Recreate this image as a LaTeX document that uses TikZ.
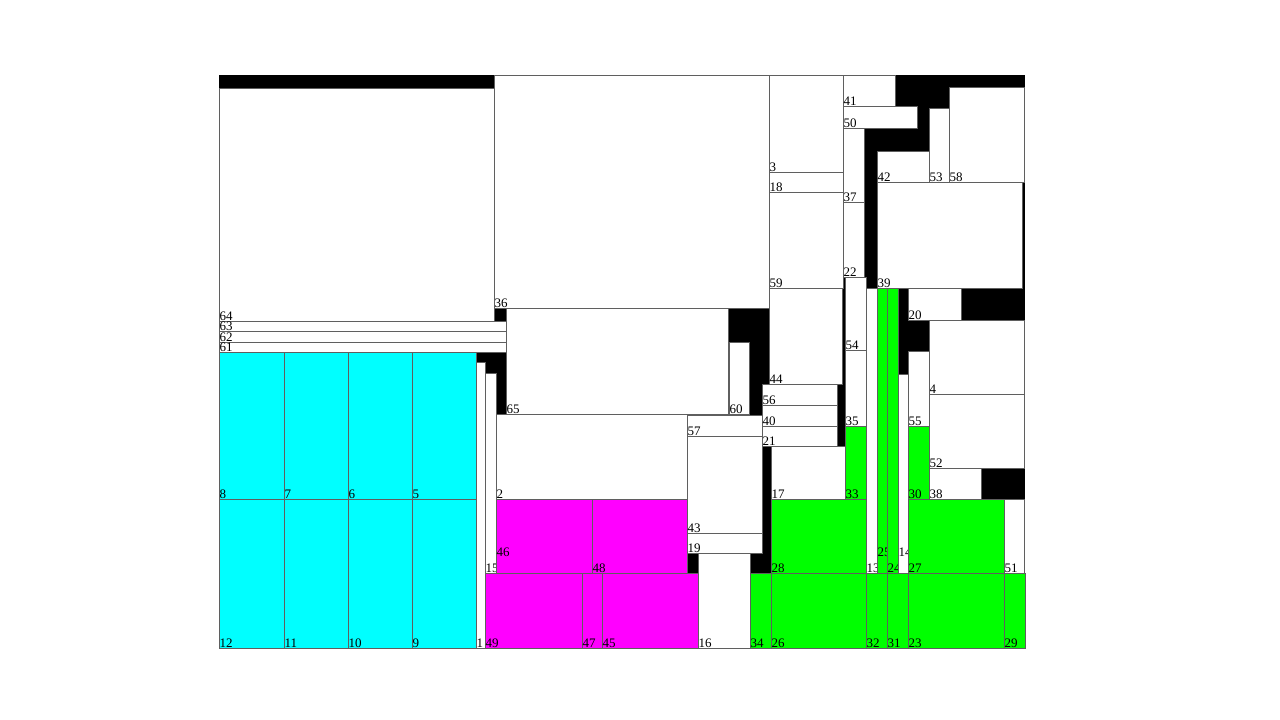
\documentclass[tikz,border=0pt]{standalone}
\usepackage{fontspec}
\setmainfont{Liberation Serif}
\definecolor{cy}{RGB}{0,255,255}
\definecolor{mg}{RGB}{255,0,255}
\definecolor{gr}{RGB}{0,255,0}
\definecolor{edge}{RGB}{95,95,95}
\tikzset{
  blk/.style={draw=edge,line width=0.8pt},
  lbl/.style={anchor=base west,inner sep=0pt,font=\fontsize{13}{13}\selectfont,xshift=0.3pt,yshift=0.5pt}
}
% \rb{label}{x1}{y1}{x2}{y2}{fill}
\newcommand{\rb}[6]{\filldraw[blk,fill=#6] (#2,#3) rectangle (#4,#5); \node[lbl] (r#1) at (#2,#5) {#1};}
% \rbl{label}{x1}{y1}{x2}{y2}{fill}{label y}
\newcommand{\rbl}[7]{\filldraw[blk,fill=#6] (#2,#3) rectangle (#4,#5); \node[lbl] (r#1) at (#2,#7) {#1};}
\begin{document}
\begin{tikzpicture}[x=1pt,y=-1pt]
\useasboundingbox[fill=white] (0,0) rectangle (1280,720);
\fill[black] (219,75) rectangle (1025,648);
% left column
\rb{64}{219}{88}{494}{321}{white}
\rb{63}{219}{321}{506}{331}{white}
\rb{62}{219}{331}{506}{342}{white}
\rb{61}{219}{342}{506}{352}{white}
\rb{8}{219}{352}{284}{499}{cy}
\rb{7}{284}{352}{348}{499}{cy}
\rb{6}{348}{352}{412}{499}{cy}
\rb{5}{412}{352}{476}{499}{cy}
\rb{12}{219}{499}{284}{648}{cy}
\rb{11}{284}{499}{348}{648}{cy}
\rb{10}{348}{499}{412}{648}{cy}
\rb{9}{412}{499}{476}{648}{cy}
\rb{1}{476}{362}{485}{648}{white}
\rb{15}{485}{373}{496}{573}{white}
% middle column
\rb{36}{494}{75}{769}{308}{white}
\rb{65}{506}{308}{728}{414}{white}
\rb{60}{729}{342}{749}{414}{white}
\rb{2}{496}{414}{687}{499}{white}
\rbl{46}{496}{499}{592}{573}{mg}{557}
\rb{48}{592}{499}{687}{573}{mg}
\rb{49}{485}{573}{582}{648}{mg}
\rb{47}{582}{573}{602}{648}{mg}
\rb{45}{602}{573}{698}{648}{mg}
\rb{16}{698}{553}{750}{648}{white}
\rb{57}{687}{415}{762}{436}{white}
\rb{43}{687}{436}{762}{533}{white}
\rb{19}{687}{533}{762}{553}{white}
% column 769-843
\rb{3}{769}{75}{843}{172}{white}
\rb{18}{769}{172}{843}{192}{white}
\rb{59}{769}{192}{843}{288}{white}
\rb{44}{769}{288}{842}{384}{white}
\rb{56}{762}{384}{837}{405}{white}
\rb{40}{762}{405}{837}{426}{white}
\rb{21}{762}{426}{837}{446}{white}
\rb{17}{771}{446}{845}{499}{white}
\rb{33}{845}{426}{866}{499}{gr}
\rb{35}{845}{350}{866}{426}{white}
\rb{54}{845}{277}{866}{350}{white}
\rb{22}{843}{202}{864}{277}{white}
\rb{37}{843}{128}{864}{202}{white}
\rb{50}{843}{106}{917}{128}{white}
\rb{41}{843}{75}{895}{106}{white}
\rb{28}{771}{499}{866}{573}{gr}
\rb{34}{750}{573}{771}{648}{gr}
\rb{26}{771}{573}{866}{648}{gr}
% right column
\rb{42}{877}{151}{929}{182}{white}
\rb{53}{929}{108}{949}{182}{white}
\rb{58}{949}{87}{1024}{182}{white}
\rb{39}{877}{182}{1022}{288}{white}
\rb{13}{866}{288}{877}{573}{white}
\rbl{25}{877}{288}{887}{573}{gr}{557}
\rb{24}{887}{288}{898}{573}{gr}
\rbl{14}{898}{374}{908}{573}{white}{557}
\rb{32}{866}{573}{887}{648}{gr}
\rb{31}{887}{573}{908}{648}{gr}
\rb{20}{908}{288}{961}{320}{white}
\rb{4}{929}{320}{1024}{394}{white}
\rb{52}{929}{394}{1024}{468}{white}
\rb{38}{929}{468}{981}{499}{white}
\rb{55}{908}{351}{929}{426}{white}
\rb{30}{908}{426}{929}{499}{gr}
\rb{27}{908}{499}{1004}{573}{gr}
\rb{51}{1004}{499}{1024}{573}{white}
\rb{23}{908}{573}{1004}{648}{gr}
\rb{29}{1004}{573}{1025}{648}{gr}
\end{tikzpicture}
\end{document}
